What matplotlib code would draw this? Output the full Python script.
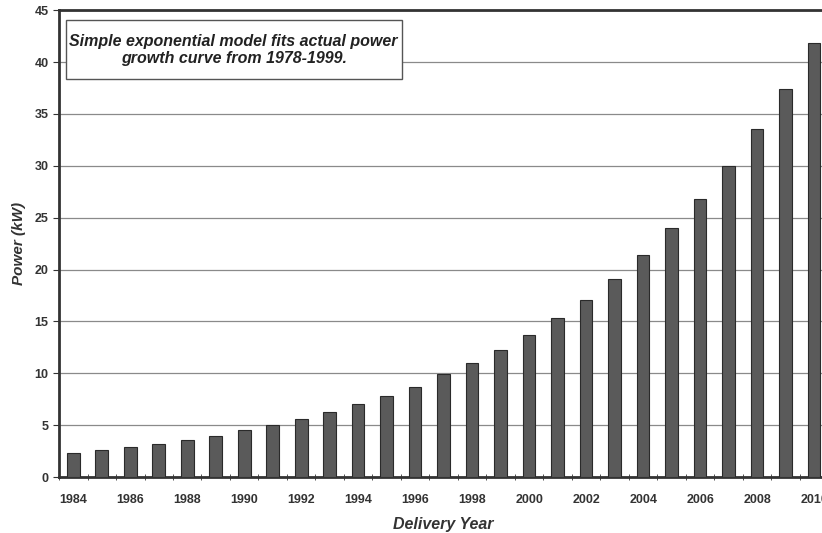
import matplotlib.pyplot as plt
import numpy as np
from matplotlib.patches import Rectangle

plt.rcParams['font.family'] = ['Liberation Sans', 'DejaVu Sans']

# delivery years and power values (kW)
years = list(range(1984, 2011))
power = [2.3, 2.6, 2.9, 3.2, 3.6, 4.0, 4.5, 5.0, 5.6, 6.3, 7.0, 7.8, 8.7, 9.9,
         11.0, 12.2, 13.7, 15.3, 17.1, 19.1, 21.4, 24.0, 26.8, 30.0, 33.5, 37.4, 41.8]
y_ticks = [0, 5, 10, 15, 20, 25, 30, 35, 40, 45]

fig = plt.figure(figsize=(8.22, 5.33), dpi=100)
ax = fig.add_axes([0.0718, 0.105, 0.936, 0.876])

x = np.arange(len(years))
ax.bar(x, power, width=0.44, color='#5a5a5a', edgecolor='#2a2a2a', linewidth=0.8, zorder=3)

ax.set_xlim(-0.5, len(years) - 0.5)
ax.set_ylim(0, 45)
ax.set_yticks(y_ticks)
ax.yaxis.grid(True, color='#8a8a8a', linewidth=0.9, zorder=0)

# labels every other year, tick marks between categories
ax.set_xticks(x[::2])
ax.set_xticklabels([str(y) for y in years[::2]])
ax.set_xticks(np.arange(-0.5, len(years), 1), minor=True)
ax.tick_params(axis='x', which='major', length=0, pad=12)
ax.tick_params(axis='x', which='minor', length=4, direction='inout', color='#333333')
ax.tick_params(axis='y', length=4, color='#333333')
for lab in ax.get_xticklabels() + ax.get_yticklabels():
    lab.set_fontsize(9)
    lab.set_fontweight('bold')
    lab.set_color('#333333')

for s in ['left', 'bottom', 'top']:
    ax.spines[s].set_linewidth(2.0)
    ax.spines[s].set_color('#333333')

ax.set_xlabel('Delivery Year', fontsize=11.5, fontweight='bold', style='italic', color='#333333', labelpad=8)
ax.set_ylabel('Power (kW)', fontsize=11, fontweight='bold', style='italic', color='#333333', labelpad=6)

# annotation box
ax.add_patch(Rectangle((0.0091, 0.852), 0.4366, 0.1263, transform=ax.transAxes,
                       facecolor='white', edgecolor='#555555', linewidth=1, zorder=4))
ax.text(0.227, 0.915, 'Simple exponential model fits actual power\ngrowth curve from 1978-1999.',
        transform=ax.transAxes, ha='center', va='center', fontsize=11.5,
        fontweight='bold', style='italic', color='#222222', zorder=5, linespacing=1.15)

fig.savefig('out.png', dpi=100)
